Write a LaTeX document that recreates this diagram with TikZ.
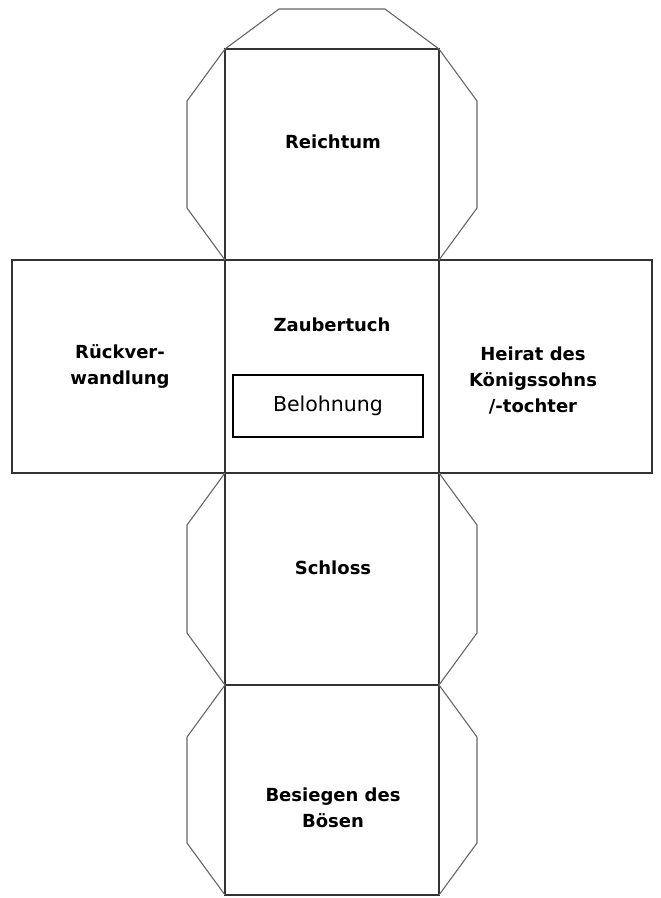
\documentclass[tikz,border=0pt]{standalone}
\usepackage{fontspec}
\setmainfont{DejaVu Sans}
\usetikzlibrary{calc}
\tikzset{
every node/.style={inner sep=0pt, outer sep=0pt},
face/.style={rectangle, draw=black!80, line width=1.3pt, anchor=north west},
flap/.style={draw=black!60, line width=1.1pt, line join=round},
facetext/.style={font=\bfseries\fontsize{18}{26}\selectfont, align=center},
prizebox/.style={rectangle, draw=black, line width=1.3pt, minimum width=190pt, minimum height=62pt, font=\fontsize{20.5}{24}\selectfont}
}

\begin{document}
\begin{tikzpicture}[x=1pt, y=-1pt]
\useasboundingbox (0,0) rectangle (661,898);

% faces of the net
\node[face, minimum width=214pt, minimum height=211pt] (top) at (225,49) {};
\node[face, minimum width=213pt, minimum height=213pt] (left) at (12,260) {};
\node[face, minimum width=214pt, minimum height=213pt] (mid) at (225,260) {};
\node[face, minimum width=213pt, minimum height=213pt] (right) at (439,260) {};
\node[face, minimum width=214pt, minimum height=212pt] (castle) at (225,473) {};
\node[face, minimum width=214pt, minimum height=210pt] (bottom) at (225,685) {};

% glue flaps
\draw[flap] (top.north west) -- ++(54,-40) -- ++(106,0) -- (top.north east);
\foreach \f in {top,castle,bottom}{
  \draw[flap] (\f.north west) -- ++(-38,52) -- ($(\f.south west)+(-38,-52)$) -- (\f.south west);
  \draw[flap] (\f.north east) -- ++(38,52) -- ($(\f.south east)+(38,-52)$) -- (\f.south east);
}

% texts
\node[facetext] (rich) at (333,142) {Reichtum};
\node[facetext] (cloth) at (332,325) {Zaubertuch};
\node[prizebox] (prize) at (328,406) {Belohnung};
\node[facetext] (back) at (120,366.5) {Rückver-\\wandlung};
\node[facetext] (wed) at (533,380) {Heirat des\\Königssohns\\/-tochter};
\node[facetext] (home) at (333,568) {Schloss};
\node[facetext] (evil) at (333,808) {Besiegen des\\Bösen};
\end{tikzpicture}
\end{document}
